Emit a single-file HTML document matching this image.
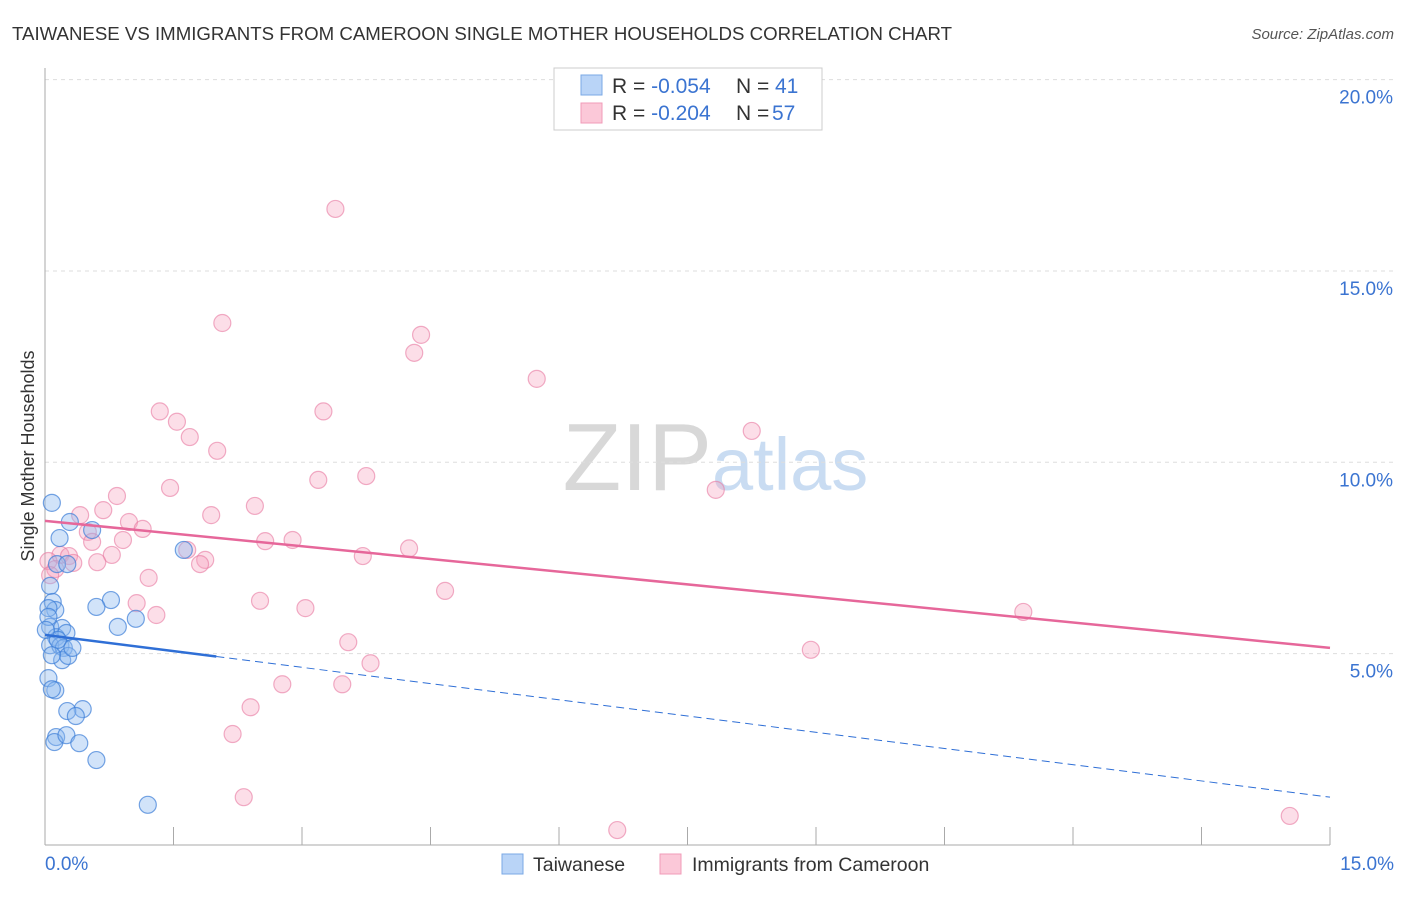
<!DOCTYPE html>
<html><head><meta charset="utf-8"><style>
body{margin:0;background:#fff;font-family:"Liberation Sans",sans-serif;}
svg text{font-family:"Liberation Sans",sans-serif;}
</style></head><body>
<svg id="c" width="1406" height="892" xmlns="http://www.w3.org/2000/svg">
<text x="12" y="40" font-size="18" fill="#333" textLength="940" lengthAdjust="spacingAndGlyphs">TAIWANESE VS IMMIGRANTS FROM CAMEROON SINGLE MOTHER HOUSEHOLDS CORRELATION CHART</text>
<text x="1394" y="39" font-size="15" fill="#555" font-style="italic" text-anchor="end">Source: ZipAtlas.com</text>
<text x="712" y="490" font-size="96" fill="#d8d8d8" text-anchor="end" font-family="Liberation Serif">ZIP</text>
<text x="712" y="490" font-size="74" fill="#c9dcf2">atlas</text>
<text transform="translate(34,456) rotate(-90)" font-size="18" fill="#333" text-anchor="middle">Single Mother Households</text>
<g id="grid"></g><g id="pts"></g><g id="lines"></g>
<g>
<rect x="554" y="68" width="268" height="62" fill="#fff" stroke="#ccc"/>
<rect x="581" y="75" width="21" height="20" fill="#b9d4f7" stroke="#7aa8e6"/>
<rect x="581" y="103" width="21" height="20" fill="#fbc8d8" stroke="#f09bb8"/>
<text x="612" y="93" font-size="21" fill="#333">R = <tspan fill="#3b74d1">-0.054</tspan><tspan x="736">N = </tspan><tspan x="775" fill="#3b74d1">41</tspan></text>
<text x="612" y="120" font-size="21" fill="#333">R = <tspan fill="#3b74d1">-0.204</tspan><tspan x="736">N = </tspan><tspan x="772" fill="#3b74d1">57</tspan></text>
</g>
<g>
<rect x="502" y="854" width="21" height="20" fill="#b9d4f7" stroke="#7aa8e6"/>
<text x="533" y="871" font-size="19.5" fill="#333">Taiwanese</text>
<rect x="660" y="854" width="21" height="20" fill="#fbc8d8" stroke="#f09bb8"/>
<text x="692" y="871" font-size="19.5" fill="#333">Immigrants from Cameroon</text>
</g>
</svg>
<script>
const xTicks=[0,1.5,3,4.5,6,7.5,9,10.5,12,13.5,15];
const yTicks=[5,10,15,20];
const yTickLabels=["5.0%","10.0%","15.0%","20.0%"];
const xEdgeLabels=["0.0%","15.0%"];
const taiwaneseX=[0.08,0.29,0.55,0.17,1.62,0.14,0.26,0.06,0.09,0.12,0.04,0.77,0.60,1.06,0.85,0.06,0.20,0.13,0.25,0.06,0.18,0.22,0.20,0.27,0.04,0.12,0.08,0.44,0.26,0.36,0.13,0.11,0.25,0.40,0.60,1.20,0.04,0.15,0.32,0.01,0.08];
const taiwaneseY=[8.94,8.44,8.23,8.02,7.71,7.34,7.34,6.77,6.35,6.14,6.19,6.40,6.22,5.91,5.70,5.70,5.67,5.43,5.54,5.22,5.20,5.15,4.83,4.94,4.36,4.04,4.07,3.55,3.50,3.37,2.82,2.69,2.87,2.66,2.22,1.05,5.96,5.36,5.15,5.62,4.96];
const cameroonX=[3.39,2.07,4.39,4.31,5.74,1.34,3.25,1.54,1.69,2.01,8.25,3.19,3.75,1.46,0.84,7.83,2.45,1.94,0.68,0.41,0.98,1.14,0.50,0.55,0.91,2.57,2.89,1.66,4.25,0.18,0.28,0.78,0.61,0.33,1.87,1.81,0.04,0.12,3.71,1.21,4.67,1.07,2.51,3.04,1.30,11.42,3.54,8.94,3.80,2.77,3.47,2.40,2.19,2.32,6.68,14.53,0.06];
const cameroonY=[16.62,13.64,13.33,12.86,12.18,11.33,11.33,11.06,10.66,10.30,10.82,9.54,9.64,9.33,9.12,9.28,8.86,8.62,8.75,8.62,8.44,8.26,8.18,7.92,7.97,7.94,7.97,7.71,7.75,7.58,7.55,7.58,7.39,7.37,7.45,7.34,7.42,7.21,7.55,6.98,6.64,6.32,6.38,6.19,6.01,6.09,5.30,5.10,4.75,4.20,4.20,3.60,2.90,1.25,0.39,0.76,7.05];
const taiFit=[5.49,1.25];
const camFit=[8.47,5.15];
const X=v=>45+v*(1285/15), Y=v=>845-v*38.27;
const NS="http://www.w3.org/2000/svg";
function mk(p,t,a){const e=document.createElementNS(NS,t);for(const k in a)e.setAttribute(k,a[k]);p.appendChild(e);return e;}
const grid=document.getElementById('grid');
yTicks.forEach((v,i)=>{
 const l=mk(grid,'line',{x1:45,x2:1394,y1:Y(v),y2:Y(v),stroke:'#ddd','stroke-dasharray':'4,4'});
 
 
 const t=mk(grid,'text',{x:1393,y:Y(v)+24,'font-size':19,fill:'#3b74d1','text-anchor':'end'});
 t.textContent=yTickLabels[i];
 
 
});
mk(grid,'line',{x1:45,x2:45,y1:68,y2:845,stroke:'#aaa'});
mk(grid,'line',{x1:45,x2:1330,y1:845,y2:845,stroke:'#aaa'});
xTicks.forEach(v=>{
 const l=mk(grid,'line',{x1:X(v),x2:X(v),y1:827,y2:845,stroke:'#aaa'});
 
 
});
[[0,'start'],[15,'end']].forEach((d,i)=>{
 const t=mk(grid,'text',{x:i?1394:45,y:870,'font-size':19,fill:'#3b74d1','text-anchor':d[1]});
 t.textContent=xEdgeLabels[i];
 
 
});
const pts=document.getElementById('pts');
cameroonX.forEach((x,i)=>{
 const c=mk(pts,'circle',{cx:X(x),cy:Y(cameroonY[i]),r:8.5,fill:'rgba(245,160,190,0.35)',stroke:'rgba(232,120,160,0.6)','stroke-width':1.2});
 
 
});
taiwaneseX.forEach((x,i)=>{
 const c=mk(pts,'circle',{cx:X(x),cy:Y(taiwaneseY[i]),r:8.5,fill:'rgba(140,185,240,0.4)',stroke:'rgba(60,125,215,0.7)','stroke-width':1.2});
 
 
});
const lines=document.getElementById('lines');
const ty=x=>taiFit[0]+(taiFit[1]-taiFit[0])*x/15;
let l1=mk(lines,'line',{x1:X(0),y1:Y(ty(0)),x2:X(2),y2:Y(ty(2)),stroke:'#2f6fd6','stroke-width':2.5});


let l2=mk(lines,'line',{x1:X(2),y1:Y(ty(2)),x2:X(15),y2:Y(ty(15)),stroke:'#2f6fd6','stroke-width':1,'stroke-dasharray':'8,5'});


let l3=mk(lines,'line',{x1:X(0),y1:Y(camFit[0]),x2:X(15),y2:Y(camFit[1]),stroke:'#e6679a','stroke-width':2.5});


</script>
</body></html>
